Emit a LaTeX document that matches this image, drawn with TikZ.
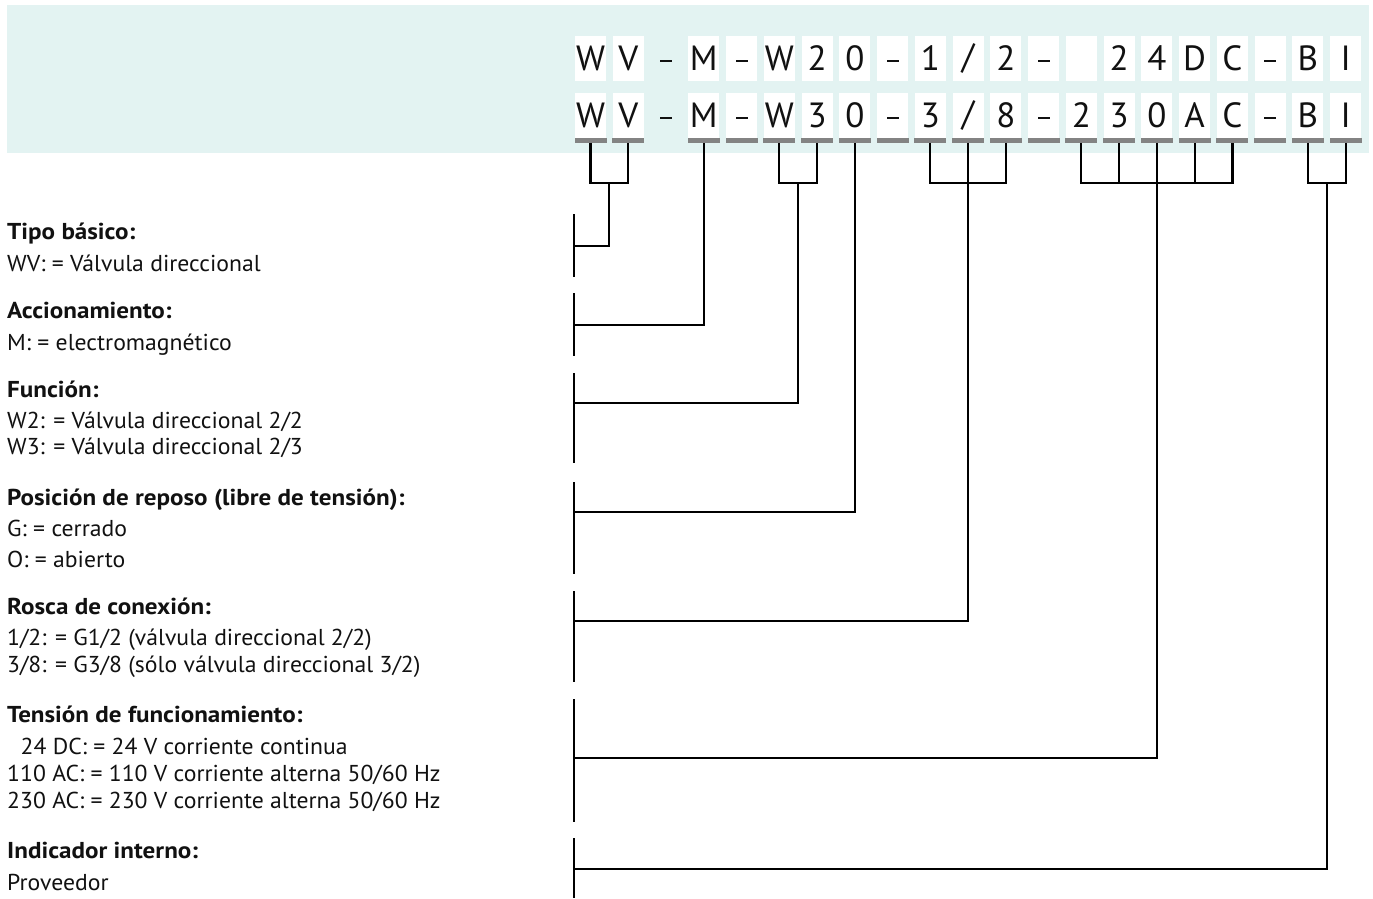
\documentclass[tikz,border=0pt]{standalone}
\usepackage{fontspec}
\setmainfont{PT Sans}
\newfontfamily\bodyfont{PT Sans}[FakeStretch=1.03]
\newfontfamily\headfont{PT Sans}[FakeStretch=1.09]
\usetikzlibrary{calc}
\definecolor{bandcol}{HTML}{E3F3F2}
\definecolor{barcol}{HTML}{838383}
\definecolor{inkcol}{HTML}{111111}
\begin{document}
\begin{tikzpicture}[x=1pt,y=-1pt,
  cellbox/.style={fill=white, minimum width=31pt, minimum height=45pt, inner sep=0pt, text=inkcol, font=\fontsize{35}{35}\selectfont},
  nocell/.style={fill=none, minimum width=31pt, minimum height=45pt, inner sep=0pt, text=inkcol, font=\fontsize{35}{35}\selectfont},
  barbox/.style={fill=barcol, minimum width=32pt, minimum height=5pt, inner sep=0pt},
  dashmark/.style={fill=inkcol},
  link/.style={draw=black, line width=2.2pt},
  head/.style={anchor=base west, inner sep=0pt, text=inkcol, font=\fontsize{23}{23}\headfont\bfseries},
  body/.style={anchor=base west, inner sep=0pt, text=inkcol, font=\fontsize{23}{23}\bodyfont}]
\useasboundingbox (0,0) rectangle (1373,898);
\fill[bandcol] (7,5) rectangle (1369,153);
% character cells
\foreach \i/\a/\b/\s in {1/W/W/cellbox,2/V/V/cellbox,3/{}/{}/nocell,4/M/M/cellbox,5/{}/{}/cellbox,6/W/W/cellbox,7/2/3/cellbox,8/0/0/cellbox,9/{}/{}/cellbox,10/1/3/cellbox,11/\slash/\slash/cellbox,12/2/8/cellbox,13/{}/{}/cellbox,14/{}/2/cellbox,15/2/3/cellbox,16/4/0/cellbox,17/D/A/cellbox,18/C/C/cellbox,19/{}/{}/cellbox,20/B/B/cellbox,21/I/I/cellbox}{
  \pgfmathsetmacro{\cx}{590.5+(\i-1)*37.76}
  \node[\s] (ra\i) at (\cx,58.5) {\a};
  \node[\s] (rb\i) at (\cx,115) {\b};
}
% dashes
\foreach \i in {3,5,9,13,19}{
  \fill[dashmark] ($(ra\i.center)+(-6,1.5)$) rectangle ($(ra\i.center)+(6,3.5)$);
  \fill[dashmark] ($(rb\i.center)+(-6,1.5)$) rectangle ($(rb\i.center)+(6,3.5)$);
}
\foreach \i in {1,2,4,5,...,21}{
  \pgfmathsetmacro{\cx}{590.5+(\i-1)*37.76}
  \node[barbox] (bar\i) at (\cx,140.2) {};
}
% left segments
\foreach \n/\t/\b in {1/214/277,2/293/356,3/373/463,4/482/574,5/591/682,6/699/822,7/838/898}{
  \coordinate (st\n) at (574,\t);
  \coordinate (sb\n) at (574,\b);
  \draw[link] (st\n) -- (sb\n);
}
\coordinate (L1) at (574,246);
\coordinate (L2) at (574,325);
\coordinate (L3) at (574,402.7);
\coordinate (L4) at (574,511.7);
\coordinate (L5) at (574,620.7);
\coordinate (L6) at (574,758);
\coordinate (L7) at (574,869);
% brackets
\draw[link] (bar1.south) -- (bar1.south |- 0,183) -- (bar2.south |- 0,183) -- (bar2.south);
\coordinate (j1) at ($(bar1.south |- 0,183)!0.5!(bar2.south |- 0,183)$);
\draw[link] (j1) -- (j1 |- L1) -- (L1);
\draw[link] (bar4.south) -- (bar4.south |- L2) -- (L2);
\draw[link] (bar6.south) -- (bar6.south |- 0,183) -- (bar7.south |- 0,183) -- (bar7.south);
\coordinate (j3) at ($(bar6.south |- 0,183)!0.5!(bar7.south |- 0,183)$);
\draw[link] (j3) -- (j3 |- L3) -- (L3);
\draw[link] (bar8.south) -- (bar8.south |- L4) -- (L4);
\draw[link] (bar10.south) -- (bar10.south |- 0,183) -- (bar12.south |- 0,183) -- (bar12.south);
\draw[link] (bar11.south) -- (bar11.south |- L5) -- (L5);
\draw[link] (bar14.south) -- (bar14.south |- 0,183) -- (bar18.south |- 0,183) -- (bar18.south);
\draw[link] (bar15.south) -- (bar15.south |- 0,183);
\draw[link] (bar17.south) -- (bar17.south |- 0,183);
\draw[link] (bar16.south) -- (bar16.south |- L6) -- (L6);
\draw[link] (bar20.south) -- (bar20.south |- 0,183) -- (bar21.south |- 0,183) -- (bar21.south);
\coordinate (j7) at ($(bar20.south |- 0,183)!0.5!(bar21.south |- 0,183)$);
\draw[link] (j7) -- (j7 |- L7) -- (L7);
% texts
\node[head] (h1) at (7,239) {Tipo básico:};
\node[body] (t11) at (7,271) {WV: = Válvula direccional};
\node[head] (h2) at (7,318) {Accionamiento:};
\node[body] (t21) at (7,350) {M: = electromagnético};
\node[head] (h3) at (7,397) {Función:};
\node[body] (t31) at (7,428) {W2: = Válvula direccional 2/2};
\node[body] (t32) at (7,454) {W3: = Válvula direccional 2/3};
\node[head] (h4) at (7,505) {Posición de reposo (libre de tensión):};
\node[body] (t41) at (7,536) {G: = cerrado};
\node[body] (t42) at (7,567) {O: = abierto};
\node[head] (h5) at (7,614) {Rosca de conexión:};
\node[body] (t51) at (7,645) {1/2: = G1/2 (válvula direccional 2/2)};
\node[body] (t52) at (7,672) {3/8: = G3/8 (sólo válvula direccional 3/2)};
\node[head] (h6) at (7,722) {Tensión de funcionamiento:};
\node[body] (t61) at (20.5,754) {24 DC: = 24 V corriente continua};
\node[body] (t62) at (7,781) {110 AC: = 110 V corriente alterna 50/60 Hz};
\node[body] (t63) at (7,808) {230 AC: = 230 V corriente alterna 50/60 Hz};
\node[head] (h7) at (7,858) {Indicador interno:};
\node[body] (t71) at (7,890) {Proveedor};
\end{tikzpicture}
\end{document}
